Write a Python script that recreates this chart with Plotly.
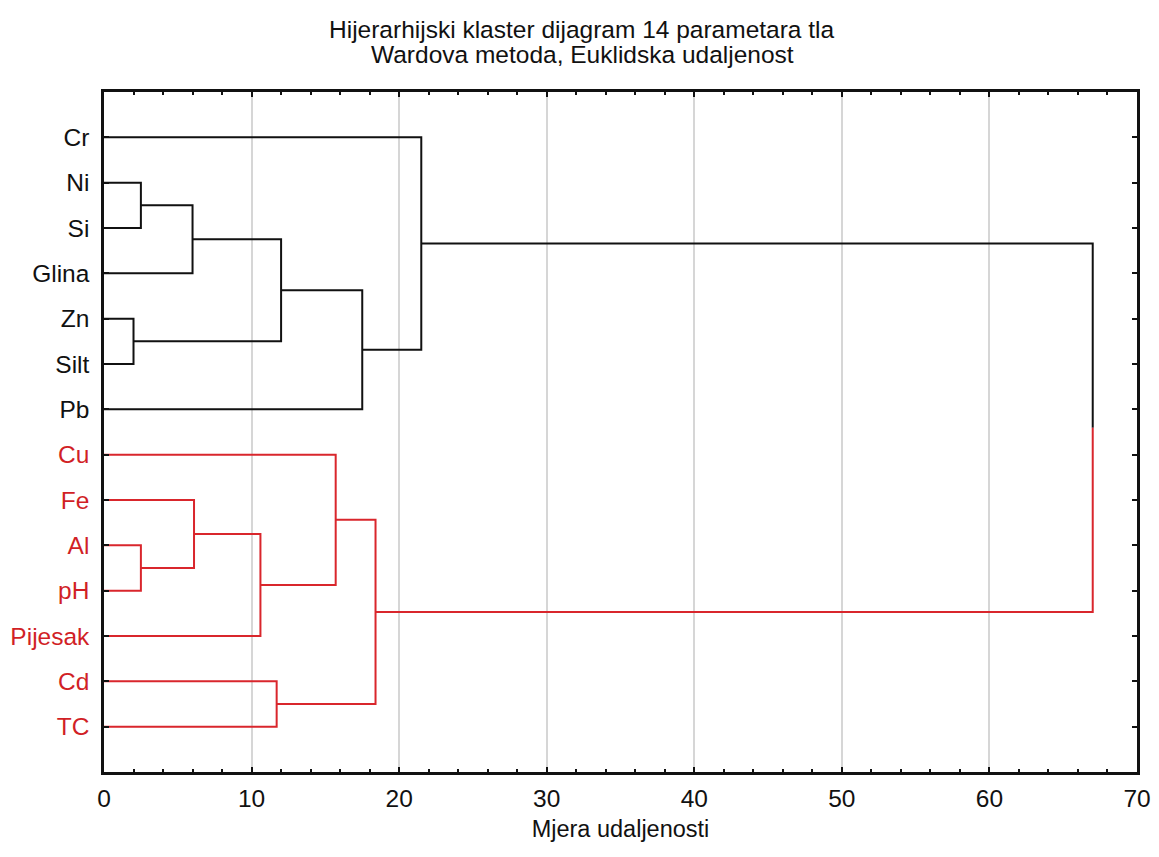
import plotly.graph_objects as go

# ---- data ----
leaves = ["Cr", "Ni", "Si", "Glina", "Zn", "Silt", "Pb",
          "Cu", "Fe", "Al", "pH", "Pijesak", "Cd", "TC"]
leaf_group = ["A"] * 7 + ["B"] * 7
# scipy-style linkage: (left child, right child, distance); ids >= 14 are clusters
merges = [
    (1, 2, 2.5),     # 14 Ni-Si
    (4, 5, 2.0),     # 15 Zn-Silt
    (9, 10, 2.5),    # 16 Al-pH
    (14, 3, 6.0),    # 17 +Glina
    (8, 16, 6.1),    # 18 Fe+(Al,pH)
    (18, 11, 10.6),  # 19 +Pijesak
    (12, 13, 11.7),  # 20 Cd-TC
    (17, 15, 12.0),  # 21
    (7, 19, 15.7),   # 22 Cu+...
    (21, 6, 17.5),   # 23 +Pb
    (22, 20, 18.4),  # 24
    (0, 23, 21.5),   # 25 Cr+...
    (25, 24, 67.0),  # 26 final
]
x_ticks = [0, 10, 20, 30, 40, 50, 60, 70]

title_1 = "Hijerarhijski klaster dijagram 14 parametara tla"
title_2 = "Wardova metoda, Euklidska udaljenost"
x_title = "Mjera udaljenosti"

colors = {"A": "#111111", "B": "#d9262c"}
label_colors = {"A": "#111111", "B": "#d11f26"}

# ---- compute dendrogram geometry ----
n = len(leaves)
pos = {i: i + 1 for i in range(n)}
hgt = {i: 0.0 for i in range(n)}
grp = {i: leaf_group[i] for i in range(n)}

fig = go.Figure()

def add_line(xs, ys, color):
    fig.add_trace(go.Scatter(x=xs, y=ys, mode="lines",
                             line=dict(color=color, width=2),
                             hoverinfo="skip", showlegend=False))

for k, (a, b, d) in enumerate(merges):
    cid = n + k
    ya, yb = pos[a], pos[b]
    mid = (ya + yb) / 2
    ga, gb = grp[a], grp[b]
    if ga == gb:
        add_line([hgt[a], d, d, hgt[b]], [ya, ya, yb, yb], colors[ga])
        grp[cid] = ga
    else:
        add_line([hgt[a], d, d], [ya, ya, mid], colors[ga])
        add_line([d, d, hgt[b]], [mid, yb, yb], colors[gb])
        grp[cid] = "mix"
    pos[cid] = mid
    hgt[cid] = d

ticktext = [f'<span style="color:{label_colors[g]}">{t}</span>'
            for t, g in zip(leaves, leaf_group)]

FONT = "Liberation Sans, Arial, sans-serif"
FS = 24.5

fig.update_layout(
    width=1159, height=857,
    margin=dict(l=104, r=22, t=92, b=85, autoexpand=False),
    paper_bgcolor="white", plot_bgcolor="white",
    font=dict(family=FONT, size=FS, color="#111111"),
    showlegend=False,
)
fig.update_xaxes(
    range=[0, 70], tickvals=x_ticks, ticktext=[str(v) for v in x_ticks],
    showgrid=True, gridcolor="#d6d6d6", gridwidth=1.5,
    zeroline=False, showline=True, linecolor="#111111", linewidth=2.5,
    mirror="ticks", ticks="inside", ticklen=5, tickwidth=1.5, tickcolor="#111111",
    minor=dict(dtick=2, ticks="inside", ticklen=3, tickwidth=1.5, tickcolor="#111111", showgrid=False),
    ticklabelstandoff=3,
    title=dict(text=x_title, standoff=10, font=dict(size=23.5)),
)
fig.update_yaxes(
    range=[15, 0], tickvals=list(range(1, n + 1)), ticktext=ticktext,
    showgrid=False, zeroline=False, showline=True, linecolor="#111111", linewidth=2.5,
    mirror="ticks", ticks="inside", ticklen=5, tickwidth=1.5, tickcolor="#111111",
    ticklabelstandoff=7,
)

cx = (582 - 104) / 1033
fig.add_annotation(text=title_1, xref="paper", yref="paper", x=cx, y=(772 - 29) / 680,
                   xanchor="center", yanchor="middle", showarrow=False,
                   font=dict(size=FS, family=FONT, color="#111111"))
fig.add_annotation(text=title_2, xref="paper", yref="paper", x=cx, y=(772 - 55) / 680,
                   xanchor="center", yanchor="middle", showarrow=False,
                   font=dict(size=FS, family=FONT, color="#111111"))

fig.write_html("out.html", config={"displayModeBar": False},
               post_script="document.body.style.margin='0';")
